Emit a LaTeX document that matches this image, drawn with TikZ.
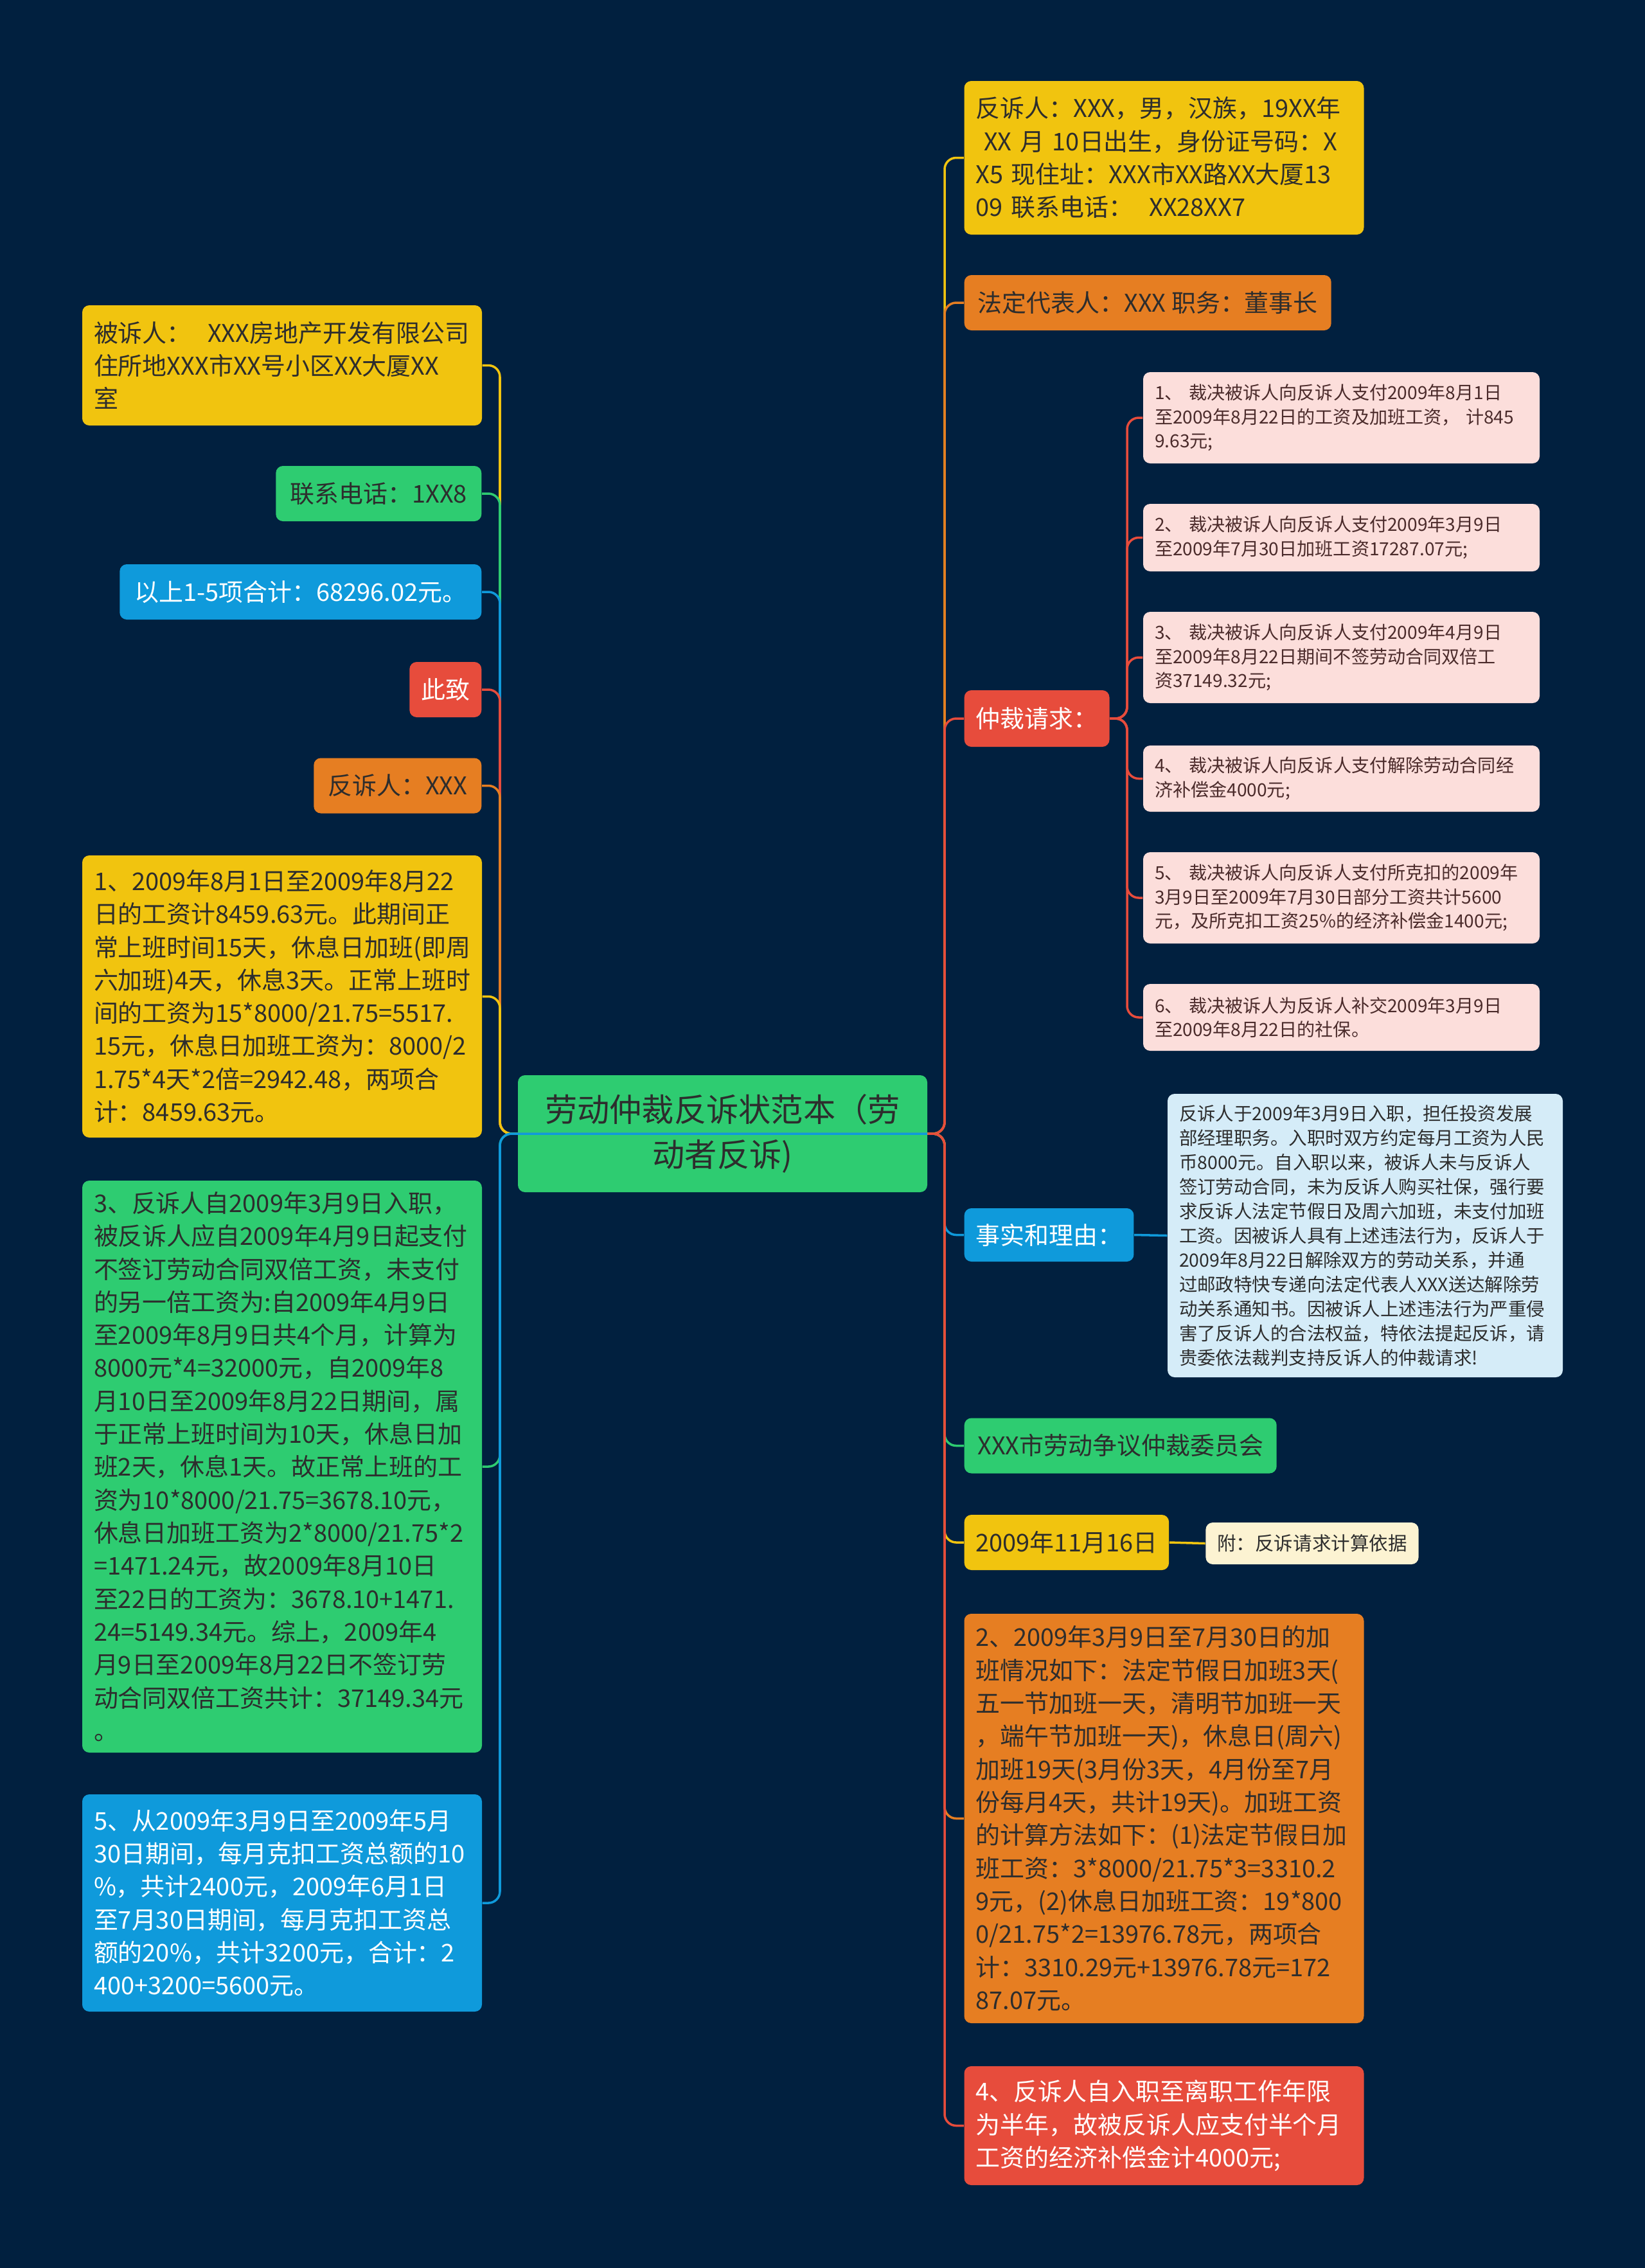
\documentclass[tikz,border=0pt]{standalone}
\usepackage{fontspec}
\newfontfamily\cjkfont{Noto Sans CJK SC}

\definecolor{bgnavy}{HTML}{01203F}
\definecolor{mmyellow}{HTML}{F1C40F}
\definecolor{mmgreen}{HTML}{2ECC71}
\definecolor{mmblue}{HTML}{0F9ADB}
\definecolor{mmred}{HTML}{E74C3C}
\definecolor{mmorange}{HTML}{E67E22}
\definecolor{mmpink}{HTML}{FCDEDB}
\definecolor{mmsky}{HTML}{D5ECF8}
\definecolor{mmcream}{HTML}{FCF3D2}
\definecolor{darktext}{HTML}{2D2D2D}
\definecolor{pinktext}{HTML}{4B2B2B}

\tikzset{
    mbox/.style={rounded corners=1.1mm, inner xsep=0.18cm, inner ysep=0pt,
        font=\cjkfont\fontsize{10.8}{14.6}\selectfont, text=darktext, align=left},
    tag/.style={mbox, minimum height=0.86cm, align=center},
    para/.style={mbox, minimum width=6.22cm, text width=5.86cm},
    ask/.style={mbox, fill=mmpink, text=pinktext, minimum width=6.17cm, text width=5.81cm,
        font=\cjkfont\fontsize{8}{10.7}\selectfont},
    link/.style={draw=#1, line width=1pt, rounded corners=1.8mm},
}

\begin{document}
\begin{tikzpicture}
    \fill[bgnavy] (0,0) rectangle (25.6,-35.29);

    \node[mbox, fill=mmgreen, align=center, minimum width=6.37cm, minimum height=1.82cm,
        font=\cjkfont\fontsize{14.3}{20}\selectfont] (root) at (11.245,-17.64)
        {劳动仲裁反诉状范本（劳\\动者反诉)};

    % left side
    \node[para, fill=mmyellow, minimum height=1.87cm] (bsr) at (4.39,-5.685)
        {被诉人：\ \ XXX房地产开发有限公司\\住所地XXX市XX号小区XX大厦XX\\室};
    \node[tag, fill=mmgreen, minimum width=3.20cm, anchor=east] (tel) at (7.50,-7.68)
        {联系电话：1XX8};
    \node[tag, fill=mmblue, text=white, minimum width=5.63cm, anchor=east] (sum) at (7.50,-9.21)
        {以上1-5项合计：68296.02元。};
    \node[tag, fill=mmred, text=white, minimum width=1.11cm, anchor=east] (cz) at (7.50,-10.73)
        {此致};
    \node[tag, fill=mmorange, minimum width=2.61cm, anchor=east] (fsr) at (7.50,-12.225)
        {反诉人：XXX};
    \node[para, fill=mmyellow, minimum height=4.39cm] (p1) at (4.39,-15.505)
        {1、2009年8月1日至2009年8月22\\
         日的工资计8459.63元。此期间正\\
         常上班时间15天，休息日加班(即周\\
         六加班)4天，休息3天。正常上班时\\
         间的工资为15*8000/21.75=5517.\\
         15元，休息日加班工资为：8000/2\\
         1.75*4天*2倍=2942.48，两项合\\
         计：8459.63元。};
    \node[para, fill=mmgreen, minimum height=8.90cm] (p3) at (4.39,-22.82)
        {3、反诉人自2009年3月9日入职，\\
         被反诉人应自2009年4月9日起支付\\
         不签订劳动合同双倍工资，未支付\\
         的另一倍工资为:自2009年4月9日\\
         至2009年8月9日共4个月，计算为\\
         8000元*4=32000元，自2009年8\\
         月10日至2009年8月22日期间，属\\
         于正常上班时间为10天，休息日加\\
         班2天，休息1天。故正常上班的工\\
         资为10*8000/21.75=3678.10元，\\
         休息日加班工资为2*8000/21.75*2\\
         =1471.24元，故2009年8月10日\\
         至22日的工资为：3678.10+1471.\\
         24=5149.34元。综上，2009年4\\
         月9日至2009年8月22日不签订劳\\
         动合同双倍工资共计：37149.34元\\
         。};
    \node[para, fill=mmblue, text=white, minimum height=3.38cm] (p5) at (4.39,-29.61)
        {5、从2009年3月9日至2009年5月\\
         30日期间，每月克扣工资总额的10\\
         \%，共计2400元，2009年6月1日\\
         至7月30日期间，每月克扣工资总\\
         额的20\%，共计3200元，合计：2\\
         400+3200=5600元。};

    % right side
    \node[para, fill=mmyellow, minimum height=2.39cm] (fsrr) at (18.115,-2.455)
        {反诉人：XXX，男，汉族，19XX年\\
         \ XX 月 10日出生，身份证号码：X\\
         X5 现住址：XXX市XX路XX大厦13\\
         09 联系电话：\ \ XX28XX7};
    \node[tag, fill=mmorange, minimum width=5.71cm, anchor=west] (fdr) at (15.00,-4.71)
        {法定代表人：XXX 职务：董事长};
    \node[tag, fill=mmred, text=white, minimum width=2.18cm, minimum height=0.88cm,
        anchor=west] (zc) at (15.00,-11.18) {仲裁请求：};

    \node[ask, minimum height=1.42cm] (c1) at (20.875,-6.50)
        {1、 裁决被诉人向反诉人支付2009年8月1日\\至2009年8月22日的工资及加班工资， 计845\\9.63元;};
    \node[ask, minimum height=1.05cm] (c2) at (20.875,-8.365)
        {2、 裁决被诉人向反诉人支付2009年3月9日\\至2009年7月30日加班工资17287.07元;};
    \node[ask, minimum height=1.42cm] (c3) at (20.875,-10.23)
        {3、 裁决被诉人向反诉人支付2009年4月9日\\至2009年8月22日期间不签劳动合同双倍工\\资37149.32元;};
    \node[ask, minimum height=1.03cm] (c4) at (20.875,-12.115)
        {4、 裁决被诉人向反诉人支付解除劳动合同经\\济补偿金4000元;};
    \node[ask, minimum height=1.42cm] (c5) at (20.875,-13.97)
        {5、 裁决被诉人向反诉人支付所克扣的2009年\\3月9日至2009年7月30日部分工资共计5600\\元，及所克扣工资25\%的经济补偿金1400元;};
    \node[ask, minimum height=1.04cm] (c6) at (20.875,-15.83)
        {6、 裁决被诉人为反诉人补交2009年3月9日\\至2009年8月22日的社保。};

    \node[tag, fill=mmblue, text=white, minimum width=2.63cm, minimum height=0.83cm,
        anchor=west] (ss) at (15.00,-19.215) {事实和理由：};
    \node[mbox, fill=mmsky, text=darktext, minimum width=6.15cm, text width=5.79cm,
        minimum height=4.41cm, font=\cjkfont\fontsize{8.1}{10.8}\selectfont] (ssd) at (21.245,-19.225)
        {反诉人于2009年3月9日入职，担任投资发展\\
         部经理职务。入职时双方约定每月工资为人民\\
         币8000元。自入职以来，被诉人未与反诉人\\
         签订劳动合同，未为反诉人购买社保，强行要\\
         求反诉人法定节假日及周六加班，未支付加班\\
         工资。因被诉人具有上述违法行为，反诉人于\\
         2009年8月22日解除双方的劳动关系，并通\\
         过邮政特快专递向法定代表人XXX送达解除劳\\
         动关系通知书。因被诉人上述违法行为严重侵\\
         害了反诉人的合法权益，特依法提起反诉，请\\
         贵委依法裁判支持反诉人的仲裁请求!};

    \node[tag, fill=mmgreen, minimum width=4.86cm, anchor=west] (wyh) at (15.00,-22.495)
        {XXX市劳动争议仲裁委员会};
    \node[tag, fill=mmyellow, minimum width=3.15cm, anchor=west] (rq) at (15.00,-24.00)
        {2009年11月16日};
    \node[tag, fill=mmcream, minimum width=3.20cm, minimum height=0.65cm,
        font=\cjkfont\fontsize{8.4}{10.8}\selectfont] (fj) at (20.42,-24.015)
        {附：反诉请求计算依据};

    \node[para, fill=mmorange, minimum height=6.37cm] (p2) at (18.115,-28.295)
        {2、2009年3月9日至7月30日的加\\
         班情况如下：法定节假日加班3天(\\
         五一节加班一天，清明节加班一天\\
         ，端午节加班一天)，休息日(周六)\\
         加班19天(3月份3天，4月份至7月\\
         份每月4天，共计19天)。加班工资\\
         的计算方法如下：(1)法定节假日加\\
         班工资：3*8000/21.75*3=3310.2\\
         9元，(2)休息日加班工资：19*800\\
         0/21.75*2=13976.78元，两项合\\
         计：3310.29元+13976.78元=172\\
         87.07元。};
    \node[para, fill=mmred, text=white, minimum height=1.85cm] (p4) at (18.115,-33.075)
        {4、反诉人自入职至离职工作年限\\
         为半年，故被反诉人应支付半个月\\
         工资的经济补偿金计4000元;};

    % connectors
    \coordinate (spL) at (7.78,-17.64);
    \coordinate (spR) at (14.70,-17.64);
    \coordinate (spC) at (17.54,-11.18);

    \foreach \n/\c in {bsr/mmyellow, tel/mmgreen, sum/mmblue, cz/mmred,
                       fsr/mmorange, p1/mmyellow, p3/mmgreen, p5/mmblue}
        \draw[link=\c] (root.east) -- (spL) |- (\n.east);

    \foreach \n/\c in {fsrr/mmyellow, fdr/mmorange, zc/mmred, ss/mmblue,
                       wyh/mmgreen, rq/mmyellow, p2/mmorange, p4/mmred}
        \draw[link=\c] (root.east) -- (spR) |- (\n.west);

    \foreach \n in {c1,c2,c3,c4,c5,c6}
        \draw[link=mmred] (zc.east) -- (spC) |- (\n.west);

    \draw[link=mmblue] (ss.east) -- (ssd.west);
    \draw[link=mmyellow] (rq.east) -- (fj.west);
\end{tikzpicture}
\end{document}
